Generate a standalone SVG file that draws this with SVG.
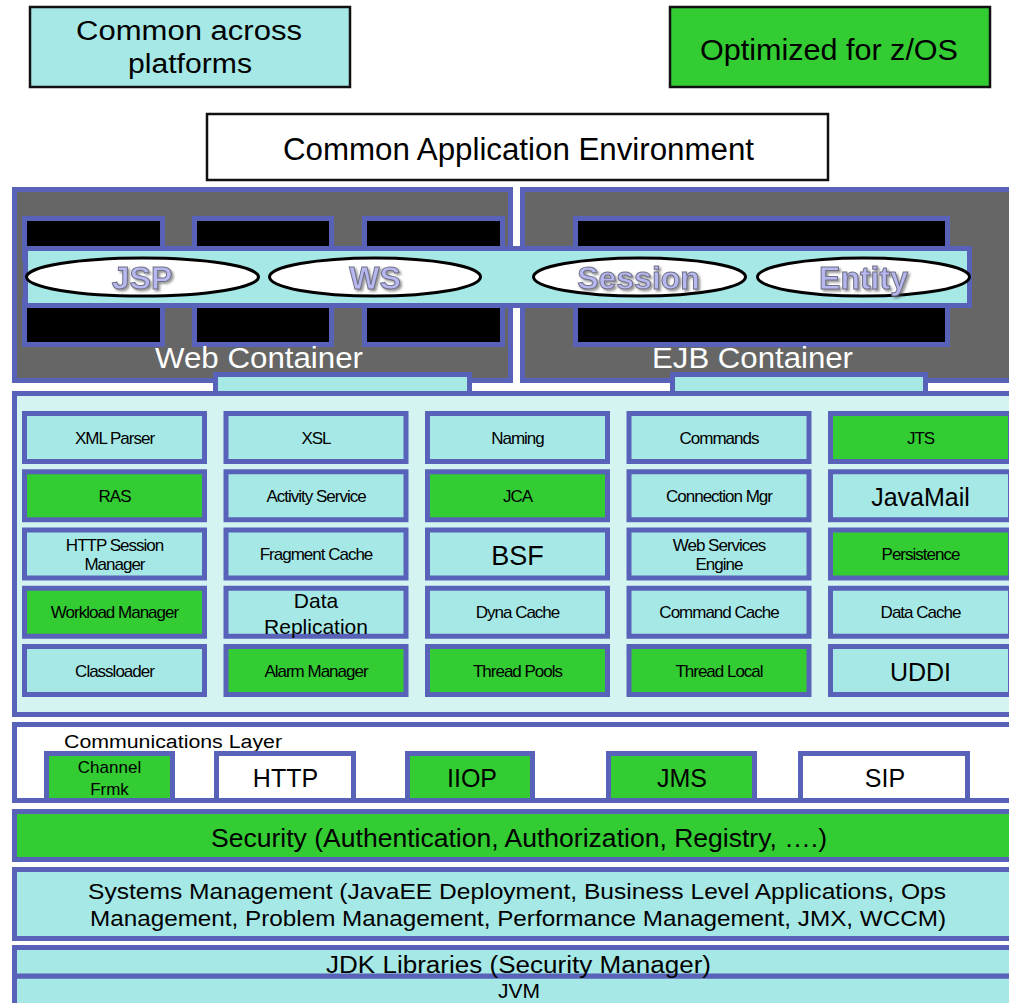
<svg xmlns="http://www.w3.org/2000/svg" width="1009" height="1003" viewBox="0 0 1009 1003">
  <style>
    .blu { stroke: #5862b8; stroke-width: 5; }
    .cy { fill: #a6e8e6; }
    .gr { fill: #33cc33; }
    .wh { fill: #ffffff; }
    .key { stroke: #111; stroke-width: 2.5; }
    .t { font-family: "Liberation Sans", Arial, sans-serif; fill: #000; text-anchor: middle; }
    .s { font-size: 17px; letter-spacing: -1px; }
    .b { font-size: 25px; }
    .m { font-size: 21px; }
    .lbl { font-family: "Liberation Sans", Arial, sans-serif; font-weight: bold; font-size: 32px; fill: #b8b8f0; stroke: #6e6e86; stroke-width: 1; text-anchor: middle; filter: url(#sh); }
    .ell { fill: #ffffff; stroke: #000; stroke-width: 3; }
    .blk { fill: #000; }
  </style>
  <defs>
    <filter id="sh" x="-10%" y="-20%" width="130%" height="150%">
      <feDropShadow dx="2" dy="2" stdDeviation="1" flood-color="#444" flood-opacity="0.55"/>
    </filter>
  </defs>

  <rect width="1009" height="1003" fill="#ffffff"/>

  <!-- legend -->
  <g id="legend-common">
    <rect x="30" y="7" width="320" height="80" class="cy key"/>
    <text x="189" y="40" class="t" font-size="27" textLength="226" lengthAdjust="spacingAndGlyphs">Common across</text>
    <text x="190" y="73" class="t" font-size="27" textLength="124" lengthAdjust="spacingAndGlyphs">platforms</text>
  </g>
  <g id="legend-zos">
    <rect x="670" y="7" width="320" height="80" class="gr key"/>
    <text x="829" y="60" class="t" font-size="30" textLength="258" lengthAdjust="spacingAndGlyphs">Optimized for z/OS</text>
  </g>

  <g id="cae">
    <rect x="207" y="114" width="621" height="66" class="wh key"/>
    <text x="518.5" y="160" class="t" font-size="31" textLength="471" lengthAdjust="spacingAndGlyphs">Common Application Environment</text>
  </g>

  <!-- containers -->
  <g id="web-container">
    <rect x="14.5" y="189.5" width="496" height="191" fill="#666666" class="blu"/>
    <rect x="24.5" y="218.5" width="138" height="40" class="blk blu"/>
    <rect x="194.5" y="218.5" width="137" height="40" class="blk blu"/>
    <rect x="364.5" y="218.5" width="138" height="40" class="blk blu"/>
    <rect x="24.5" y="300" width="138" height="44.5" class="blk blu"/>
    <rect x="194.5" y="300" width="137" height="44.5" class="blk blu"/>
    <rect x="364.5" y="300" width="138" height="44.5" class="blk blu"/>
    <text x="259" y="368" class="t" font-size="29" style="fill:#ffffff" textLength="208" lengthAdjust="spacingAndGlyphs">Web Container</text>
  </g>
  <g id="ejb-container">
    <rect x="522.5" y="189.5" width="500" height="191" fill="#666666" class="blu"/>
    <rect x="575.5" y="218.5" width="372" height="40" class="blk blu"/>
    <rect x="575.5" y="300" width="372" height="44.5" class="blk blu"/>
    <text x="752.5" y="368" class="t" font-size="29" style="fill:#ffffff" textLength="201" lengthAdjust="spacingAndGlyphs">EJB Container</text>
  </g>

  <g id="component-band">
    <rect x="25.5" y="248.5" width="944" height="57" class="cy blu"/>
  </g>
  <g id="jsp">
    <ellipse cx="142.5" cy="277" rx="116" ry="19" class="ell"/>
    <text x="142" y="289" class="lbl">JSP</text>
  </g>
  <g id="ws">
    <ellipse cx="375" cy="277" rx="105.5" ry="19" class="ell"/>
    <text x="375" y="289" class="lbl">WS</text>
  </g>
  <g id="session">
    <ellipse cx="639.5" cy="277" rx="106" ry="19" class="ell"/>
    <text x="638.5" y="289" class="lbl">Session</text>
  </g>
  <g id="entity">
    <ellipse cx="863.5" cy="277" rx="106" ry="19" class="ell"/>
    <text x="863.5" y="289" class="lbl">Entity</text>
  </g>

  <!-- runtime services -->
  <g id="services">
    <rect x="14.5" y="393.5" width="1000" height="321" fill="#d4f4f2" class="blu"/>
  </g>
  <g id="web-tab"><rect x="215.5" y="374.5" width="254" height="19" class="cy blu"/></g>
  <g id="ejb-tab"><rect x="672.5" y="374.5" width="253" height="19" class="cy blu"/></g>

  <g id="xml-parser"><rect x="24.5" y="413.5" width="180" height="48" class="cy blu"/><text x="114.5" y="443.5" class="t s">XML Parser</text></g>
  <g id="xsl"><rect x="226" y="413.5" width="180" height="48" class="cy blu"/><text x="316" y="443.5" class="t s">XSL</text></g>
  <g id="naming"><rect x="427.5" y="413.5" width="180" height="48" class="cy blu"/><text x="517.5" y="443.5" class="t s">Naming</text></g>
  <g id="commands"><rect x="629" y="413.5" width="180" height="48" class="cy blu"/><text x="719" y="443.5" class="t s">Commands</text></g>
  <g id="jts"><rect x="830.5" y="413.5" width="180" height="48" class="gr blu"/><text x="920.5" y="443.5" class="t s">JTS</text></g>

  <g id="ras"><rect x="24.5" y="471.75" width="180" height="48" class="gr blu"/><text x="114.5" y="501.75" class="t s">RAS</text></g>
  <g id="activity-service"><rect x="226" y="471.75" width="180" height="48" class="cy blu"/><text x="316" y="501.75" class="t s">Activity Service</text></g>
  <g id="jca"><rect x="427.5" y="471.75" width="180" height="48" class="gr blu"/><text x="517.5" y="501.75" class="t s">JCA</text></g>
  <g id="connection-mgr"><rect x="629" y="471.75" width="180" height="48" class="cy blu"/><text x="719" y="501.75" class="t s">Connection Mgr</text></g>
  <g id="javamail"><rect x="830.5" y="471.75" width="180" height="48" class="cy blu"/><text x="920.5" y="506" class="t b">JavaMail</text></g>

  <g id="http-session-manager"><rect x="24.5" y="530" width="180" height="48" class="cy blu"/><text x="114.5" y="551" class="t s">HTTP Session</text><text x="114.5" y="570" class="t s">Manager</text></g>
  <g id="fragment-cache"><rect x="226" y="530" width="180" height="48" class="cy blu"/><text x="316" y="560" class="t s">Fragment Cache</text></g>
  <g id="bsf"><rect x="427.5" y="530" width="180" height="48" class="cy blu"/><text x="517.5" y="564.5" class="t" font-size="27">BSF</text></g>
  <g id="web-services-engine"><rect x="629" y="530" width="180" height="48" class="cy blu"/><text x="719" y="551" class="t s">Web Services</text><text x="719" y="570" class="t s">Engine</text></g>
  <g id="persistence"><rect x="830.5" y="530" width="180" height="48" class="gr blu"/><text x="920.5" y="560" class="t s">Persistence</text></g>

  <g id="workload-manager"><rect x="24.5" y="588.25" width="180" height="48" class="gr blu"/><text x="114.5" y="618.25" class="t s">Workload Manager</text></g>
  <g id="data-replication"><rect x="226" y="588.25" width="180" height="48" class="cy blu"/><text x="316" y="608" class="t m">Data</text><text x="316" y="634" class="t m">Replication</text></g>
  <g id="dyna-cache"><rect x="427.5" y="588.25" width="180" height="48" class="cy blu"/><text x="517.5" y="618.25" class="t s">Dyna Cache</text></g>
  <g id="command-cache"><rect x="629" y="588.25" width="180" height="48" class="cy blu"/><text x="719" y="618.25" class="t s">Command Cache</text></g>
  <g id="data-cache"><rect x="830.5" y="588.25" width="180" height="48" class="cy blu"/><text x="920.5" y="618.25" class="t s">Data Cache</text></g>

  <g id="classloader"><rect x="24.5" y="646.5" width="180" height="48" class="cy blu"/><text x="114.5" y="676.5" class="t s">Classloader</text></g>
  <g id="alarm-manager"><rect x="226" y="646.5" width="180" height="48" class="gr blu"/><text x="316" y="676.5" class="t s">Alarm Manager</text></g>
  <g id="thread-pools"><rect x="427.5" y="646.5" width="180" height="48" class="gr blu"/><text x="517.5" y="676.5" class="t s">Thread Pools</text></g>
  <g id="thread-local"><rect x="629" y="646.5" width="180" height="48" class="gr blu"/><text x="719" y="676.5" class="t s">Thread Local</text></g>
  <g id="uddi"><rect x="830.5" y="646.5" width="180" height="48" class="cy blu"/><text x="920.5" y="681" class="t b">UDDI</text></g>

  <!-- communications layer -->
  <g id="communications-layer">
    <rect x="14.5" y="724.5" width="1000" height="76" class="wh blu"/>
    <text x="64" y="748" font-family="Liberation Sans, Arial, sans-serif" font-size="18" textLength="218" lengthAdjust="spacingAndGlyphs">Communications Layer</text>
  </g>
  <g id="channel-frmk"><rect x="46.5" y="753.5" width="126" height="47" class="gr blu"/><text x="109.5" y="773" class="t" font-size="17">Channel</text><text x="109.5" y="795" class="t" font-size="17">Frmk</text></g>
  <g id="http"><rect x="216.5" y="753.5" width="137" height="47" class="wh blu"/><text x="285.5" y="787" class="t b">HTTP</text></g>
  <g id="iiop"><rect x="407.5" y="753.5" width="125" height="47" class="gr blu"/><text x="472" y="787" class="t b">IIOP</text></g>
  <g id="jms"><rect x="608.5" y="753.5" width="146" height="47" class="gr blu"/><text x="682" y="787" class="t b">JMS</text></g>
  <g id="sip"><rect x="800.5" y="753.5" width="167" height="47" class="wh blu"/><text x="885" y="787" class="t b">SIP</text></g>

  <g id="security">
    <rect x="14.5" y="811.5" width="1000" height="48" class="gr blu"/>
    <text x="519" y="846.5" class="t" font-size="26" textLength="616" lengthAdjust="spacingAndGlyphs">Security (Authentication, Authorization, Registry, ….)</text>
  </g>

  <g id="systems-management">
    <rect x="14.5" y="869.5" width="1000" height="69" class="cy blu"/>
    <text x="517" y="899" class="t" font-size="22" textLength="858" lengthAdjust="spacingAndGlyphs">Systems Management (JavaEE Deployment, Business Level Applications, Ops</text>
    <text x="518" y="926" class="t" font-size="22" textLength="856" lengthAdjust="spacingAndGlyphs">Management, Problem Management, Performance Management, JMX, WCCM)</text>
  </g>

  <g id="jvm">
    <rect x="14.5" y="976" width="1000" height="40" class="cy blu"/>
    <text x="519" y="998" class="t" font-size="21">JVM</text>
  </g>
  <g id="jdk-libraries">
    <rect x="14.5" y="947.5" width="1000" height="28.5" class="cy blu"/>
    <text x="518.5" y="973" class="t" font-size="23" textLength="385" lengthAdjust="spacingAndGlyphs">JDK Libraries (Security Manager)</text>
  </g>
</svg>
